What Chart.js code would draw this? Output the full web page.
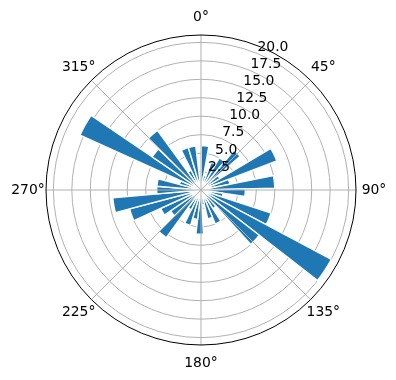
<!DOCTYPE html>
<html>
<head>
<meta charset="utf-8">
<script src="https://cdn.jsdelivr.net/npm/chart.js@4.4.1/dist/chart.umd.min.js"></script>
<style>
  html, body { margin: 0; padding: 0; background: #fff; }
</style>
</head>
<body>
<canvas id="rose" width="396" height="380"></canvas>
<script>
// Histogram bins (left edge, degrees, clockwise from north)
const binEdges = [0.4, 10.2, 20.0, 29.8, 39.6, 49.4, 59.2, 69.0, 78.8, 88.6, 98.4, 108.2,
  118.0, 127.8, 137.6, 147.4, 157.2, 167.0, 176.8, 186.6, 196.4, 206.2, 216.0, 225.8,
  235.6, 245.4, 255.2, 265.0, 274.8, 284.6, 294.4, 304.2, 314.0, 323.8, 333.6, 343.4];
const binWidth = 9.8;
const counts = [6, 2, 4, 5, 7, 3, 11, 4, 10, 6, 3, 10,
  20, 10, 3, 5, 4, 2, 6, 4, 5, 3, 8, 5,
  6, 10, 12, 6, 6, 3, 18, 8, 10, 3, 6, 6];

// Axis ticks
const rMax = 21;
const rTicks = [0, 2.5, 5, 7.5, 10, 12.5, 15, 17.5, 20];
const thetaTicks = [0, 45, 90, 135, 180, 225, 270, 315];
const thetaLabels = ['0°', '45°', '90°', '135°', '180°', '225°', '270°', '315°'];

const FONT = '13.9px "DejaVu Sans"';
const GRID = '#b0b0b0';

/**
 * Spokes, outer spine and the text labels of the polar axes.
 */
const polarDecor = {
  id: 'polarDecor',
  afterDatasetsDraw(chart) {
    const r = chart.scales.r;
    const ctx = chart.ctx;
    const R = r.drawingArea;
    ctx.save();
    ctx.strokeStyle = GRID;
    ctx.lineWidth = 1;
    thetaTicks.forEach(a => {
      const t = a * Math.PI / 180;
      ctx.beginPath();
      ctx.moveTo(r.xCenter, r.yCenter);
      ctx.lineTo(r.xCenter + R * Math.sin(t), r.yCenter - R * Math.cos(t));
      ctx.stroke();
    });
    ctx.restore();
  },
  afterDraw(chart) {
    const r = chart.scales.r;
    const ctx = chart.ctx;
    const R = r.drawingArea;
    ctx.save();
    // outer spine
    ctx.strokeStyle = '#000';
    ctx.lineWidth = 1;
    ctx.beginPath();
    ctx.arc(r.xCenter, r.yCenter, R, 0, Math.PI * 2);
    ctx.stroke();

    ctx.fillStyle = '#000';
    ctx.font = FONT;

    // angle labels
    ctx.textAlign = 'center';
    ctx.textBaseline = 'middle';
    thetaTicks.forEach((a, i) => {
      const t = a * Math.PI / 180;
      const d = R + 18;
      ctx.fillText(thetaLabels[i], r.xCenter + d * Math.sin(t), r.yCenter - d * Math.cos(t));
    });

    // radial tick labels along 22.5 deg
    const t = 22.5 * Math.PI / 180;
    ctx.textAlign = 'left';
    rTicks.slice(1).forEach(v => {
      const d = r.getDistanceFromCenterForValue(v);
      ctx.fillText(v.toFixed(1), r.xCenter + d * Math.sin(t), r.yCenter - d * Math.cos(t) - 6);
    });
    ctx.restore();
  }
};

new Chart(document.getElementById('rose'), {
  type: 'polarArea',
  data: {
    labels: binEdges.map(e => e.toFixed(1) + '°'),
    datasets: [{
      data: counts,
      angle: binWidth,
      backgroundColor: '#1f77b4',
      borderColor: '#ffffff',
      borderWidth: 1.4
    }]
  },
  options: {
    responsive: false,
    devicePixelRatio: 1,
    animation: false,
    layout: { padding: { top: 35, bottom: 35, left: 6, right: 0 } },
    plugins: { legend: { display: false }, tooltip: { enabled: false } },
    scales: {
      r: {
        min: 0,
        max: rMax,
        startAngle: binEdges[0],
        z: 1,
        afterBuildTicks: scale => { scale.ticks = rTicks.map(v => ({ value: v })); },
        ticks: { display: false },
        grid: { color: GRID, lineWidth: 1, circular: true },
        angleLines: { display: false },
        pointLabels: { display: false }
      }
    }
  },
  plugins: [polarDecor]
});
</script>
</body>
</html>
